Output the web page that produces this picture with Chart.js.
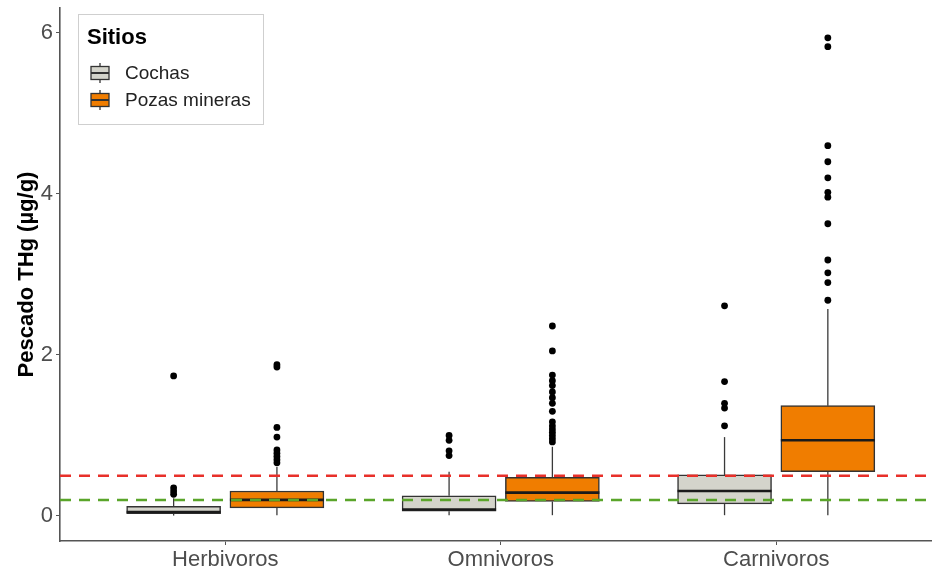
<!DOCTYPE html>
<html lang="es">
<head>
<meta charset="UTF-8">
<title>Pescado THg</title>
<script src="https://cdn.jsdelivr.net/npm/chart.js"></script>
<style>
  body { margin: 0; background: #fff; }
  #wrap { width: 935px; height: 577px; }
</style>
</head>
<body>
<div id="wrap"><canvas id="thgChart"></canvas></div>
<script>
const categories = ['Herbivoros', 'Omnivoros', 'Carnivoros'];
const siteNames = ['Cochas', 'Pozas mineras'];
const yTicks = [0, 2, 4, 6];

// five-number summaries, one value per category
const cochasLow  = [0.005, 0.01, 0.01];
const cochasQ1   = [0.03, 0.06, 0.15];
const cochasMed  = [0.05, 0.08, 0.31];
const cochasQ3   = [0.12, 0.25, 0.51];
const cochasHigh = [0.22, 0.55, 0.98];
const cochasOutliers = [
  [0.27, 0.31, 0.35, 1.74],
  [0.75, 0.81, 0.94, 1.00],
  [1.12, 1.34, 1.40, 1.67, 2.61]
];

const pozasLow  = [0.01, 0.01, 0.01];
const pozasQ1   = [0.10, 0.18, 0.55];
const pozasMed  = [0.20, 0.29, 0.94];
const pozasQ3   = [0.31, 0.48, 1.37];
const pozasHigh = [0.61, 0.86, 2.57];
const pozasOutliers = [
  [0.66, 0.70, 0.74, 0.78, 0.82, 0.98, 1.10, 1.85, 1.88],
  [0.92, 0.96, 1.00, 1.04, 1.08, 1.12, 1.17, 1.30, 1.40, 1.47, 1.54, 1.62, 1.68, 1.75, 2.05, 2.36],
  [2.68, 2.90, 3.02, 3.18, 3.63, 3.96, 4.02, 4.20, 4.40, 4.60, 5.83, 5.94]
];

const limitRed = 0.5;
const limitGreen = 0.2;

const FONT = "'Liberation Sans', Arial, sans-serif";
const DODGE = 0.1875;
const fills = ['#d4d4cb', '#f07d00'];

const sites = [
  { low: cochasLow, q1: cochasQ1, med: cochasMed, q3: cochasQ3, high: cochasHigh, out: cochasOutliers, shift: -DODGE },
  { low: pozasLow, q1: pozasQ1, med: pozasMed, q3: pozasQ3, high: pozasHigh, out: pozasOutliers, shift: DODGE }
];

const boxDatasets = sites.map((s, k) => ({
  type: 'bar',
  label: siteNames[k],
  data: categories.map((c, i) => ({ x: i + 1 + s.shift, y: [s.q1[i], s.q3[i]] })),
  backgroundColor: fills[k],
  borderColor: '#333333',
  borderWidth: 1.5,
  borderSkipped: false,
  grouped: false,
  barThickness: 94,
  order: 2
}));

const outlierDatasets = sites.map((s, k) => ({
  type: 'scatter',
  label: siteNames[k] + ' outliers',
  data: s.out.flatMap((vals, i) => vals.map(v => ({ x: i + 1 + s.shift, y: v }))),
  backgroundColor: '#000',
  borderColor: '#000',
  pointRadius: 3.4,
  borderWidth: 0,
  order: 1
}));

function vline(ctx, x, y1, y2) {
  ctx.beginPath(); ctx.moveTo(x, y1); ctx.lineTo(x, y2); ctx.stroke();
}

const boxExtras = {
  id: 'boxExtras',
  beforeDatasetsDraw(chart) {
    const { ctx, scales: { x, y } } = chart;
    ctx.save();
    ctx.strokeStyle = '#3a3a3a';
    ctx.lineWidth = 1.3;
    sites.forEach(s => {
      categories.forEach((c, i) => {
        const px = x.getPixelForValue(i + 1 + s.shift);
        vline(ctx, px, y.getPixelForValue(s.low[i]), y.getPixelForValue(s.q1[i]));
        vline(ctx, px, y.getPixelForValue(s.q3[i]), y.getPixelForValue(s.high[i]));
      });
    });
    ctx.restore();
  },
  afterDatasetsDraw(chart) {
    const { ctx, chartArea, scales: { x, y } } = chart;
    ctx.save();
    // medians
    ctx.strokeStyle = '#1a1a1a';
    ctx.lineWidth = 2.6;
    sites.forEach(s => {
      categories.forEach((c, i) => {
        const px = x.getPixelForValue(i + 1 + s.shift);
        const py = y.getPixelForValue(s.med[i]);
        ctx.beginPath(); ctx.moveTo(px - 47, py); ctx.lineTo(px + 47, py); ctx.stroke();
      });
    });
    // reference limits
    ctx.lineWidth = 2.5;
    ctx.setLineDash([11, 8]);
    [[limitRed, '#e8302a'], [limitGreen, '#5aa52a']].forEach(([v, col]) => {
      const py = y.getPixelForValue(v);
      ctx.strokeStyle = col;
      ctx.beginPath(); ctx.moveTo(chartArea.left, py); ctx.lineTo(chartArea.right, py); ctx.stroke();
    });
    ctx.restore();
  },
  afterDraw(chart) {
    const ctx = chart.ctx;
    ctx.save();
    ctx.fillStyle = '#fff';
    ctx.strokeStyle = '#cfcfcf';
    ctx.lineWidth = 1;
    ctx.fillRect(78, 14, 185, 110);
    ctx.strokeRect(78.5, 14.5, 185, 110);
    ctx.fillStyle = '#000';
    ctx.textBaseline = 'middle';
    ctx.font = 'bold 22px ' + FONT;
    ctx.fillText('Sitios', 87, 38);
    ctx.font = '19px ' + FONT;
    siteNames.forEach((name, k) => {
      const cy = 73 + k * 27;
      ctx.strokeStyle = '#333333';
      ctx.lineWidth = 1.3;
      vline(ctx, 100, cy - 10, cy + 10);
      ctx.fillStyle = fills[k];
      ctx.fillRect(91, cy - 6.5, 18, 13);
      ctx.strokeRect(91, cy - 6.5, 18, 13);
      ctx.lineWidth = 2;
      ctx.beginPath(); ctx.moveTo(91, cy); ctx.lineTo(109, cy); ctx.stroke();
      ctx.fillStyle = '#222';
      ctx.fillText(name, 125, cy + 1);
    });
    ctx.restore();
  }
};

new Chart(document.getElementById('thgChart'), {
  type: 'bar',
  data: { datasets: [...boxDatasets, ...outlierDatasets] },
  options: {
    responsive: true,
    maintainAspectRatio: false,
    animation: false,
    layout: { padding: { top: 8, right: -4, left: 0, bottom: 0 } },
    plugins: { legend: { display: false }, tooltip: { enabled: false } },
    scales: {
      x: {
        type: 'linear',
        offset: false,
        min: 0.4,
        max: 3.562,
        afterBuildTicks: sc => { sc.ticks = categories.map((c, i) => ({ value: i + 1 })); },
        afterFit: sc => { sc.height = 36; sc.paddingLeft = 0; sc.paddingRight = 0; },
        grid: { offset: false, drawOnChartArea: false, drawTicks: true, tickLength: 4, color: '#555' },
        border: { color: '#555', width: 1.6 },
        ticks: {
          padding: 2,
          color: '#4d4d4d',
          font: { family: FONT, size: 22 },
          callback: v => categories[v - 1] || ''
        }
      },
      y: {
        type: 'linear',
        min: -0.3106,
        max: 6.31,
        afterBuildTicks: sc => { sc.ticks = yTicks.map(v => ({ value: v })); },
        afterFit: sc => { sc.width = 60; sc.paddingTop = 0; sc.paddingBottom = 0; },
        grid: { drawOnChartArea: false, drawTicks: true, tickLength: 4, color: '#555' },
        border: { color: '#555', width: 1.6 },
        ticks: {
          padding: 3,
          color: '#4d4d4d',
          font: { family: FONT, size: 22 }
        },
        title: {
          display: true,
          text: 'Pescado THg (µg/g)',
          color: '#000',
          font: { family: FONT, size: 22, weight: 'bold' },
          padding: { top: 14, bottom: 0 }
        }
      }
    }
  },
  plugins: [boxExtras]
});
</script>
</body>
</html>
